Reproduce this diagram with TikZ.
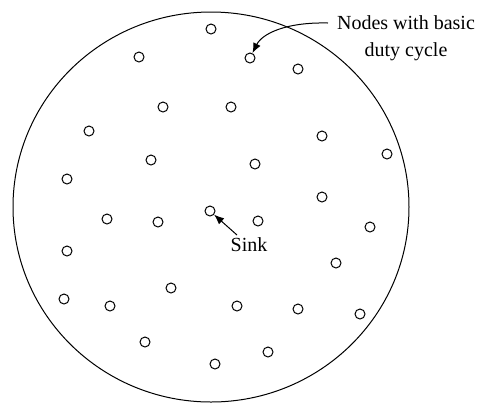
\documentclass[tikz,border=0pt]{standalone}
\usepackage{fontspec}
\setmainfont{Liberation Serif}
\usetikzlibrary{arrows.meta}

\begin{document}
\begin{tikzpicture}[x=0.5pt,y=-0.5pt,line width=0.5pt,
    sensor/.style={circle,draw,inner sep=0pt,minimum size=5pt},
    tag/.style={inner sep=0pt,font=\fontsize{10pt}{13.5pt}\selectfont,align=center},
    pointer/.style={-{Latex[length=5pt,width=4pt]}}]
    \useasboundingbox (0,0) rectangle (477,403);
    \draw (211,207) ellipse [x radius=99pt,y radius=97.5pt];
    % sensor nodes
    \foreach \x/\y [count=\i] in {211/29,139/57,250/58,298/69,163/107,231/107,89/131,
        322/136,151/160,387/154,255/164,67/179,322/197,107/219,158/222,258/221,370/227,
        67/251,336/263,171/288,64/299,110/306,237/306,298/309,360/314,145/342,268/352,215/364}
      {\node[sensor] (n\i) at (\x,\y) {};}
    \node[sensor] (sink) at (210,211) {};
    % labels
    \node[tag] (basic) at (406,38) {Nodes with basic\\duty cycle};
    \node[tag] (sinklbl) at (249,245) {Sink};
    \coordinate (basictail) at (328,23);
    \coordinate (sinktail) at (237,235);
    \draw[pointer] (basictail) .. controls (285,22) and (262,34) .. (n3);
    \draw[pointer] (sinktail) -- (sink);
\end{tikzpicture}
\end{document}
